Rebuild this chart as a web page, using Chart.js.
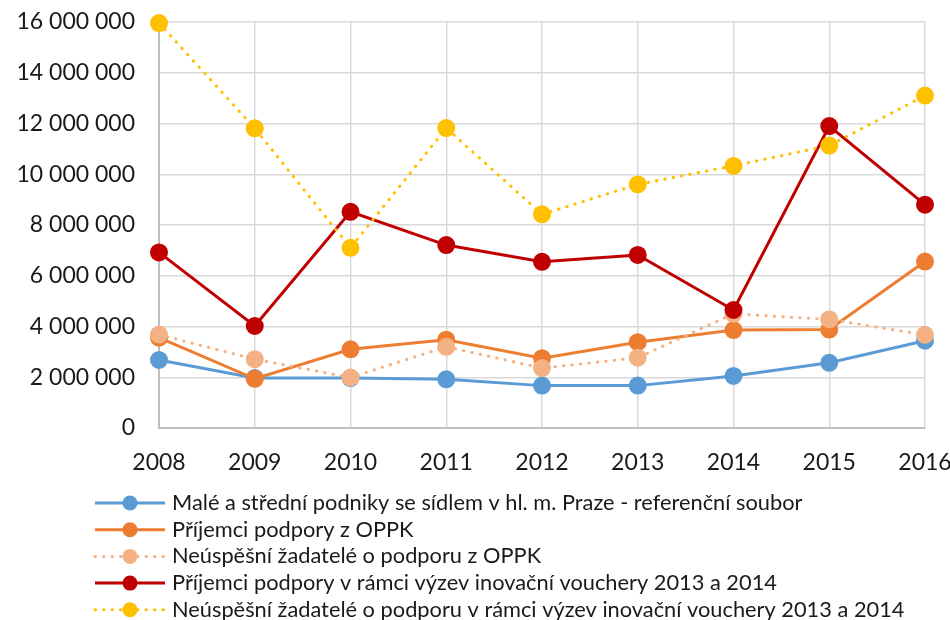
<!DOCTYPE html>
<html>
<head>
<meta charset="utf-8">
<script src="https://cdn.jsdelivr.net/npm/chart.js@4"></script>
<style>
  html, body { margin: 0; padding: 0; background: #fff; }
  #wrap { width: 950px; height: 620px; }
</style>
</head>
<body>
<div id="wrap"><canvas id="chart" width="950" height="620"></canvas></div>
<script>
const years = ["2008", "2009", "2010", "2011", "2012", "2013", "2014", "2015", "2016"];

const seriesNames = [
    "Malé a střední podniky se sídlem v hl. m. Praze - referenční soubor",
    "Příjemci podpory z OPPK",
    "Neúspěšní žadatelé o podporu z OPPK",
    "Příjemci podpory v rámci výzev inovační vouchery 2013 a 2014",
    "Neúspěšní žadatelé o podporu v rámci výzev inovační vouchery 2013 a 2014"
];

const referenceSme = [2680000, 1970000, 1970000, 1920000, 1670000, 1670000, 2050000, 2570000, 3440000];
const oppkRecipients = [3560000, 1940000, 3100000, 3480000, 2750000, 3380000, 3860000, 3880000, 6560000];
const oppkRejected = [3680000, 2710000, 1990000, 3200000, 2360000, 2770000, 4500000, 4280000, 3670000];
const voucherRecipients = [6920000, 4020000, 8520000, 7210000, 6550000, 6820000, 4650000, 11900000, 8800000];
const voucherRejected = [15960000, 11810000, 7100000, 11820000, 8420000, 9600000, 10330000, 11130000, 13100000];

const yTicks = [0, 2000000, 4000000, 6000000, 8000000, 10000000, 12000000, 14000000, 16000000];

const colors = ["#5B9BD5", "#ED7D31", "#F4B183", "#C00000", "#FFC000"];
const dotted = [false, false, true, false, true];
const allValues = [referenceSme, oppkRecipients, oppkRejected, voucherRecipients, voucherRejected];

const FONT = "Lato";

const datasets = allValues.map((vals, i) => ({
    label: seriesNames[i],
    data: vals,
    borderColor: colors[i],
    backgroundColor: colors[i],
    pointBackgroundColor: colors[i],
    pointBorderColor: colors[i],
    borderWidth: 3,
    borderDash: dotted[i] ? [0.5, 8] : [],
    borderCapStyle: dotted[i] ? "round" : "butt",
    pointRadius: 7.5,
    pointHoverRadius: 7.5,
    tension: 0,
    clip: false,
    order: 5 - i
}));

function fmt(v) {
    return String(v).replace(/\B(?=(\d{3})+(?!\d))/g, " ");
}

// legend drawn below the plot, one row per series, like the original
const rowLegend = {
    id: "rowLegend",
    afterDraw(chart) {
        const ctx = chart.ctx;
        ctx.save();
        chart.data.datasets.forEach((ds, i) => {
            const y = 503 + i * 26.7;
            ctx.strokeStyle = ds.borderColor;
            ctx.lineWidth = 3;
            ctx.lineCap = dotted[i] ? "round" : "butt";
            ctx.setLineDash(dotted[i] ? [0.5, 8] : []);
            ctx.beginPath();
            ctx.moveTo(95, y);
            ctx.lineTo(165, y);
            ctx.stroke();
            ctx.setLineDash([]);
            ctx.fillStyle = ds.borderColor;
            ctx.beginPath();
            ctx.arc(130, y, 7.5, 0, Math.PI * 2);
            ctx.fill();
            ctx.fillStyle = "#1a1a1a";
            ctx.font = "21.8px " + FONT;
            ctx.textBaseline = "middle";
            ctx.textAlign = "left";
            ctx.fillText(ds.label, 172, y);
        });
        ctx.restore();
    }
};

new Chart(document.getElementById("chart").getContext("2d"), {
    type: "line",
    data: { labels: years, datasets: datasets },
    options: {
        responsive: false,
        animation: false,
        layout: { padding: { top: 22, right: 25, left: 0, bottom: 0 } },
        plugins: {
            legend: { display: false },
            tooltip: { enabled: false }
        },
        scales: {
            x: {
                offset: false,
                grid: { color: "#d9d9d9", lineWidth: 1.5, drawTicks: false },
                border: { color: "#bfbfbf", width: 2 },
                ticks: {
                    color: "#1a1a1a",
                    font: { family: FONT, size: 23 },
                    padding: 21,
                    maxRotation: 0,
                    autoSkip: false
                },
                afterFit(s) {
                    s.height = 192;
                    s.paddingLeft = 0;
                    s.paddingRight = 0;
                }
            },
            y: {
                min: 0,
                max: 16000000,
                afterBuildTicks(s) { s.ticks = yTicks.map(v => ({ value: v })); },
                grid: { color: "#d9d9d9", lineWidth: 1.5, drawTicks: false },
                border: { color: "#bfbfbf", width: 2 },
                ticks: {
                    color: "#1a1a1a",
                    font: { family: FONT, size: 23 },
                    padding: 24,
                    callback: v => fmt(v)
                },
                afterFit(s) {
                    s.width = 159;
                    s.paddingTop = 0;
                    s.paddingBottom = 0;
                }
            }
        }
    },
    plugins: [rowLegend]
});
</script>
</body>
</html>
